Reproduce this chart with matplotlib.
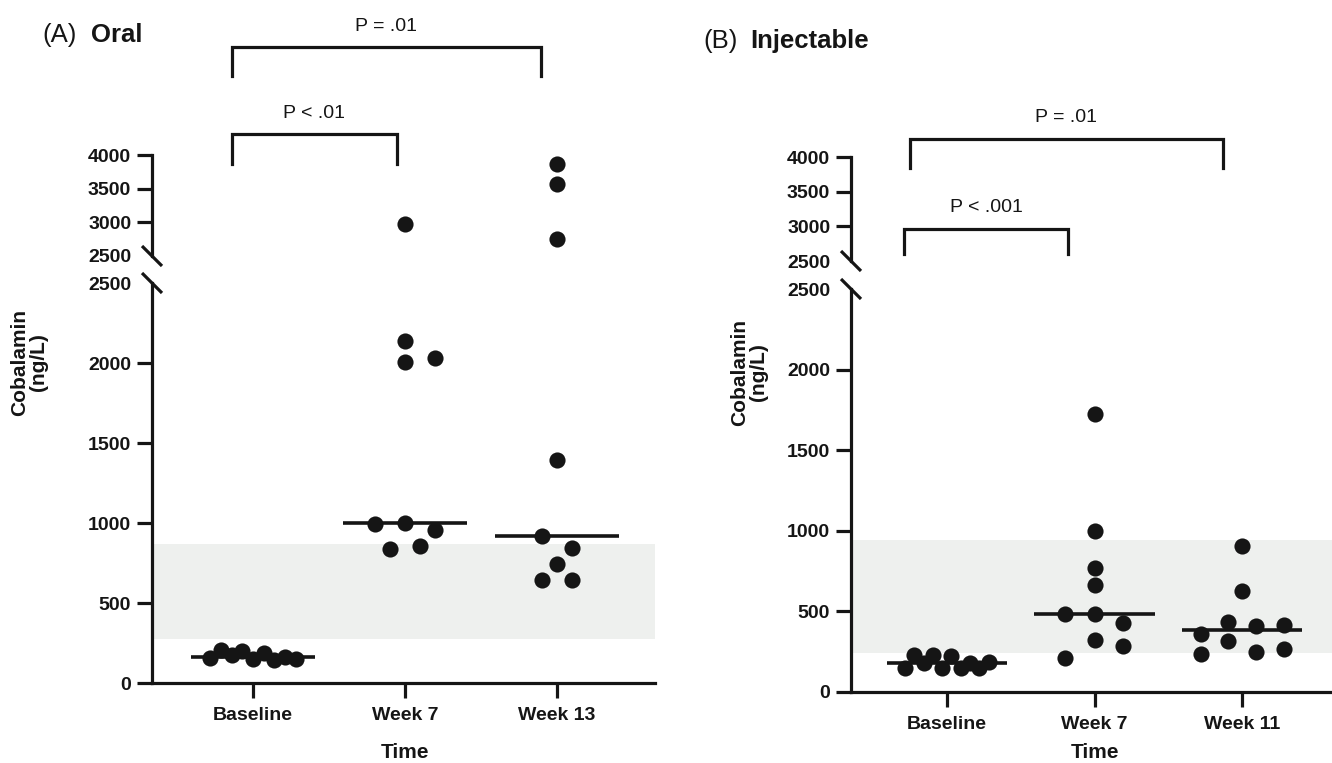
import numpy as np
import matplotlib
matplotlib.use("Agg")
import matplotlib.pyplot as plt

plt.rcParams['font.family'] = ['Liberation Sans', 'DejaVu Sans']

# ---- data (ng/L) ----
oral_groups = ["Baseline", "Week 7", "Week 13"]
oral_baseline = [156, 206, 175, 200, 150, 187, 144, 162, 150]
oral_week7 = [2980, 2135, 2006, 2031, 1000, 996, 958, 840, 854]
oral_week13 = [3870, 3570, 2750, 1396, 917, 844, 744, 646, 646]
oral_ref = [275, 870]          # shaded reference range
oral_pvals = ["P < .01", "P = .01"]

inj_groups = ["Baseline", "Week 7", "Week 11"]
inj_baseline = [149, 230, 180, 230, 149, 223, 149, 180, 149, 186]
inj_week7 = [1725, 998, 769, 661, 486, 320, 483, 211, 428, 285]
inj_week11 = [905, 624, 362, 238, 434, 314, 409, 248, 413, 269]
inj_ref = [240, 940]
inj_pvals = ["P < .001", "P = .01"]

lower_ticks = [0, 500, 1000, 1500, 2000, 2500]
upper_ticks = [2500, 3000, 3500, 4000]

# horizontal spread of the dots inside each column (layout only)
oral_dx = [[-0.283, -0.212, -0.141, -0.071, 0, 0.071, 0.141, 0.212, 0.283],
           [0, 0, 0, 0.2, 0, -0.2, 0.2, -0.1, 0.1],
           [0, 0, 0, 0, -0.1, 0.1, 0, -0.1, 0.1]]
inj_dx = [[-0.285, -0.222, -0.159, -0.096, -0.033, 0.03, 0.093, 0.156, 0.219, 0.282],
          [0, 0, 0, 0, 0, 0, -0.2, -0.2, 0.19, 0.19],
          [0, 0, -0.28, -0.28, -0.096, -0.096, 0.096, 0.096, 0.286, 0.286]]

W, H = 1332, 763
fig = plt.figure(figsize=(W / 100, H / 100), dpi=100)
INK = '#151515'
LW = 2.3


def px_rect(left, right, top, bottom):
    return [left / W, 1 - bottom / H, (right - left) / W, (bottom - top) / H]


def style_axis(ax, ticks):
    ax.set_yticks(ticks)
    ax.set_yticklabels([str(t) for t in ticks])
    ax.tick_params(axis='both', length=11, width=LW, color=INK, labelsize=14,
                   labelcolor=INK, pad=4)
    for lab in ax.get_yticklabels() + ax.get_xticklabels():
        lab.set_fontweight('bold')
    # no tick mark at the break value, the slash stands there instead
    for t in ax.yaxis.get_major_ticks():
        if t.get_loc() == 2500:
            t.tick1line.set_visible(False)
    for s in ['top', 'right']:
        ax.spines[s].set_visible(False)
    for s in ['left', 'bottom']:
        ax.spines[s].set_linewidth(LW)
        ax.spines[s].set_color(INK)


def panel(lower_px, upper_px, xlim, groups, series, dx, ref, brackets, pvals,
          title_xy, letter, name, ylab_xy, xlab_y):
    lo = fig.add_axes(px_rect(*lower_px))
    up = fig.add_axes(px_rect(*upper_px), sharex=lo)
    lo.set_ylim(0, 2500)
    up.set_ylim(2500, 4000)
    lo.set_xlim(*xlim)

    lo.axhspan(ref[0], ref[1], color='#eef0ee', zorder=0, lw=0)

    for i, (vals, off) in enumerate(zip(series, dx)):
        xs = np.array(off) + i
        vals = np.array(vals, dtype=float)
        for ax, m in ((lo, vals <= 2500), (up, vals > 2500)):
            ax.scatter(xs[m], vals[m], s=135, color=INK, lw=0, zorder=3,
                       clip_on=False)
        lo.hlines(np.median(vals), i - 0.41, i + 0.41, color=INK, lw=2.6,
                  zorder=4)

    lo.set_xticks(range(len(groups)))
    lo.set_xticklabels(groups)
    style_axis(lo, lower_ticks)
    style_axis(up, upper_ticks)
    up.spines['bottom'].set_visible(False)
    up.tick_params(axis='x', bottom=False, labelbottom=False)
    lo.tick_params(axis='x', pad=6)

    # axis break marks
    for ax, y0 in ((up, 0.0), (lo, 1.0)):
        bb = ax.get_position()
        ddx = 10 / (bb.width * W)
        ddy = 10 / (bb.height * H)
        ax.plot([-ddx, ddx], [y0 + ddy, y0 - ddy], transform=ax.transAxes,
                color=INK, lw=LW, clip_on=False, solid_capstyle='butt')

    # significance brackets (drawn on the upper axes, outside its range)
    for (x0, x1, yh, ye, ylab), txt in zip(brackets, pvals):
        up.plot([x0, x0, x1, x1], [ye, yh, yh, ye], color=INK, lw=LW,
                clip_on=False, solid_joinstyle='miter')
        up.text((x0 + x1) / 2, ylab, txt, ha='center', va='baseline',
                fontsize=14, color=INK, clip_on=False)

    # x axis title under the middle column
    bb = lo.get_position()
    xmid = bb.x0 + (1 - xlim[0]) / (xlim[1] - xlim[0]) * bb.width
    fig.text(xmid, 1 - xlab_y / H, 'Time', ha='center', va='center',
             fontsize=15, fontweight='bold', color=INK)

    fig.text(ylab_xy[0] / W, 1 - ylab_xy[1] / H, 'Cobalamin\n(ng/L)',
             rotation=90, ha='center', va='center', multialignment='center',
             fontsize=15, fontweight='bold', color=INK, linespacing=0.95)
    fig.text(title_xy[0] / W, 1 - title_xy[2] / H, letter, ha='left',
             va='baseline', fontsize=18.5, color=INK)
    fig.text(title_xy[1] / W, 1 - title_xy[2] / H, name, ha='left',
             va='baseline', fontsize=18.5, fontweight='bold', color=INK)
    return lo, up


panel(lower_px=(152, 655, 283, 683), upper_px=(152, 655, 155, 256),
      xlim=(-0.664, 2.645), groups=oral_groups,
      series=[oral_baseline, oral_week7, oral_week13], dx=oral_dx, ref=oral_ref,
      brackets=[(-0.138, 0.947, 4312, 3866, 4549),
                (-0.138, 1.895, 5604, 5173, 5841)],
      pvals=oral_pvals, title_xy=(42, 91, 42), letter='(A)', name='Oral',
      ylab_xy=(29, 362), xlab_y=752)

panel(lower_px=(851, 1332, 289, 692), upper_px=(851, 1332, 157, 261),
      xlim=(-0.651, 2.61), groups=inj_groups,
      series=[inj_baseline, inj_week7, inj_week11], dx=inj_dx, ref=inj_ref,
      brackets=[(-0.29, 0.82, 2961, 2600, 3207),
                (-0.25, 1.87, 4259, 3841, 4504)],
      pvals=inj_pvals, title_xy=(703, 750, 48), letter='(B)', name='Injectable',
      ylab_xy=(749, 372), xlab_y=752)

fig.savefig('out.png', dpi=100)
